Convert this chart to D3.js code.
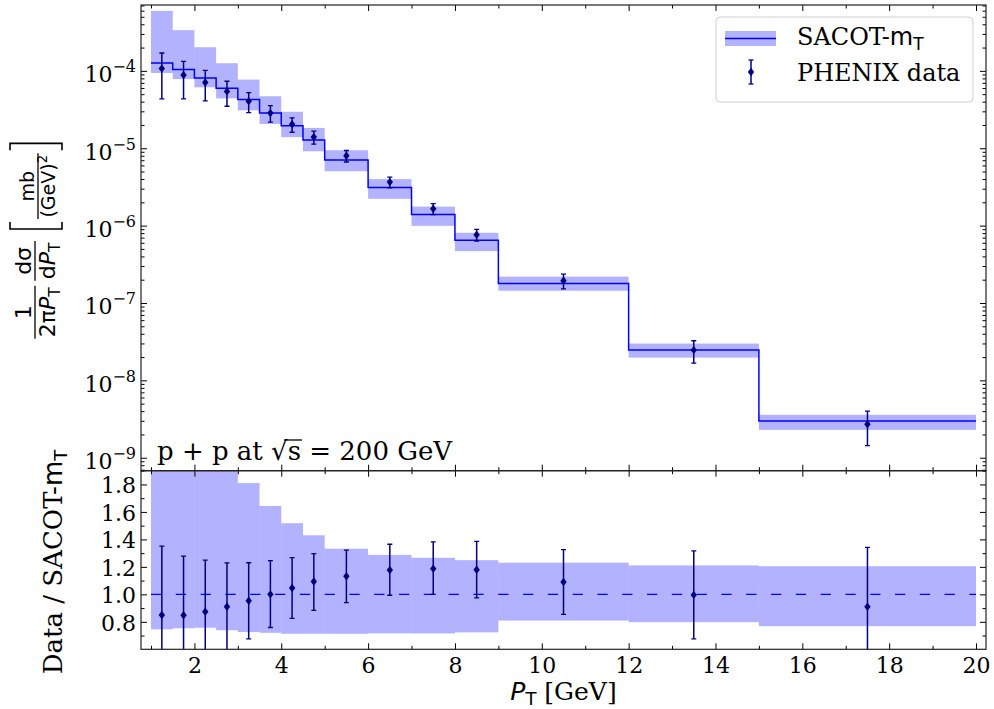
<!DOCTYPE html>
<html>
<head>
<meta charset="utf-8">
<script src="https://d3js.org/d3.v7.min.js"></script>
<style>
  body { margin: 0; background: #fff; }
</style>
</head>
<body>
<svg id="chart" width="994" height="709" font-family="DejaVu Serif"></svg>
<script>
// bins in P_T [GeV]
var binLo = [1, 1.5, 2, 2.5, 3, 3.5, 4, 4.5, 5, 6, 7, 8, 9, 12, 15];
var binHi = [1.5, 2, 2.5, 3, 3.5, 4, 4.5, 5, 6, 7, 8, 9, 12, 15, 20];

// SACOT-mT prediction (central value + band), mb/GeV^2
var theory   = [1.26e-4, 1.04e-4, 8.1e-5, 5.97e-5, 4.26e-5, 2.86e-5, 1.95e-5, 1.28e-5, 7.07e-6, 3.1e-6, 1.39e-6, 6.47e-7, 1.78e-7, 2.47e-8, 2.98e-9];
var theoryHi = [5.97e-4, 3.36e-4, 2.02e-4, 1.254e-4, 7.71e-5, 4.70e-5, 2.96e-5, 1.83e-5, 9.42e-6, 3.99e-6, 1.76e-6, 8.08e-7, 2.19e-7, 2.99e-8, 3.59e-9];
var theoryLo = [9.39e-5, 7.83e-5, 6.13e-5, 4.41e-5, 3.09e-5, 2.06e-5, 1.39e-5, 9.13e-6, 5.04e-6, 2.22e-6, 9.94e-7, 4.68e-7, 1.44e-7, 1.97e-8, 2.29e-9];

// PHENIX data
var dataPt  = [1.25, 1.75, 2.25, 2.75, 3.25, 3.75, 4.25, 4.75, 5.5, 6.5, 7.5, 8.5, 10.5, 13.5, 17.5];
var dataVal = [1.071e-4, 8.82e-5, 7.08e-5, 5.43e-5, 4.06e-5, 2.86e-5, 2.04e-5, 1.40e-5, 8.0e-6, 3.65e-6, 1.65e-6, 7.63e-7, 1.94e-7, 2.46e-8, 2.71e-9];
var dataHi  = [1.702e-4, 1.330e-4, 1.012e-4, 7.34e-5, 5.24e-5, 3.56e-5, 2.47e-5, 1.66e-5, 9.35e-6, 4.23e-6, 1.92e-6, 8.96e-7, 2.36e-7, 3.25e-8, 4.0e-9];
var dataLo  = [4.35e-5, 4.35e-5, 4.09e-5, 3.49e-5, 2.88e-5, 2.17e-5, 1.61e-5, 1.13e-5, 6.64e-6, 3.08e-6, 1.39e-6, 6.30e-7, 1.52e-7, 1.67e-8, 1.43e-9];

// ticks
var xTicks = [2, 4, 6, 8, 10, 12, 14, 16, 18, 20];
var xMinor = [1, 3, 5, 7, 9, 11, 13, 15, 17, 19];
var logTicks = [1e-9, 1e-8, 1e-7, 1e-6, 1e-5, 1e-4];
var ratioTicks = [0.8, 1.0, 1.2, 1.4, 1.6, 1.8];
var ratioMinor = [0.7, 0.9, 1.1, 1.3, 1.5, 1.7, 1.9];

var svg = d3.select('#chart');
var L = 141, R = 986, T = 5, M = 470.7, B = 649.3;
var BLUE = '#0000ff', NAVY = '#000080';

var x = d3.scaleLinear().domain([0.77, 20.23]).range([L, R]);
var yTop = d3.scaleLog().domain([6.8e-10, 7.1e-4]).range([M, T]);
var yBot = d3.scaleLinear().domain([0.6, 1.9]).range([B, M]);

var logMinor = [];
for (var k = -10; k <= -4; k++) {
    for (var m = 2; m <= 9; m++) {
        var v = m * Math.pow(10, k);
        if (v > 6.8e-10 && v < 7.1e-4) logMinor.push(v);
    }
}

var defs = svg.append('defs');
defs.append('clipPath').attr('id', 'clipTop').append('rect')
    .attr('x', L).attr('y', T).attr('width', R - L).attr('height', M - T);
defs.append('clipPath').attr('id', 'clipBot').append('rect')
    .attr('x', L).attr('y', M).attr('width', R - L).attr('height', B - M);

var bins = binLo.map(function(lo, i) {
    return {lo: lo, hi: binHi[i], c: theory[i], bl: theoryLo[i], bh: theoryHi[i]};
});
var pts = dataPt.map(function(p, i) {
    return {x: p, v: dataVal[i], lo: dataLo[i], hi: dataHi[i], c: theory[i]};
});

function diamond(cx, cy) {
    return 'M' + cx + ',' + (cy - 4.2) + 'L' + (cx + 3.2) + ',' + cy + 'L' + cx + ',' + (cy + 4.2) + 'L' + (cx - 3.2) + ',' + cy + 'Z';
}

function drawPoints(g, yScale, f) {
    var p = g.selectAll('.pt').data(pts).enter().append('g').attr('class', 'pt');
    p.append('line')
        .attr('x1', function(d) { return x(d.x); }).attr('x2', function(d) { return x(d.x); })
        .attr('y1', function(d) { return yScale(f(d.hi, d)); })
        .attr('y2', function(d) { return yScale(f(d.lo, d)); })
        .attr('stroke', NAVY).attr('stroke-width', 1.5);
    [function(d) { return d.hi; }, function(d) { return d.lo; }].forEach(function(acc) {
        p.append('line')
            .attr('x1', function(d) { return x(d.x) - 2.5; }).attr('x2', function(d) { return x(d.x) + 2.5; })
            .attr('y1', function(d) { return yScale(f(acc(d), d)); })
            .attr('y2', function(d) { return yScale(f(acc(d), d)); })
            .attr('stroke', NAVY).attr('stroke-width', 1.3);
    });
    p.append('path')
        .attr('d', function(d) { return diamond(x(d.x), yScale(f(d.v, d))); })
        .attr('fill', NAVY);
}

// ---- top panel
var topG = svg.append('g').attr('clip-path', 'url(#clipTop)');
topG.selectAll('.band').data(bins).enter().append('rect')
    .attr('class', 'band')
    .attr('x', function(d) { return x(d.lo); })
    .attr('width', function(d) { return x(d.hi) - x(d.lo); })
    .attr('y', function(d) { return yTop(d.bh); })
    .attr('height', function(d) { return yTop(d.bl) - yTop(d.bh); })
    .attr('fill', BLUE).attr('fill-opacity', 0.3);

var stepPts = bins.map(function(d) { return [d.lo, d.c]; });
stepPts.push([binHi[binHi.length - 1], theory[theory.length - 1]]);
topG.append('path')
    .attr('d', d3.line().curve(d3.curveStepAfter)
        .x(function(d) { return x(d[0]); })
        .y(function(d) { return yTop(d[1]); })(stepPts))
    .attr('fill', 'none').attr('stroke', BLUE).attr('stroke-width', 1.5);

drawPoints(topG, yTop, function(v) { return v; });

// ---- bottom panel (ratio to theory)
var botG = svg.append('g').attr('clip-path', 'url(#clipBot)');
botG.selectAll('.band').data(bins).enter().append('rect')
    .attr('class', 'band')
    .attr('x', function(d) { return x(d.lo); })
    .attr('width', function(d) { return x(d.hi) - x(d.lo); })
    .attr('y', function(d) { return yBot(d.bh / d.c); })
    .attr('height', function(d) { return yBot(d.bl / d.c) - yBot(d.bh / d.c); })
    .attr('fill', BLUE).attr('fill-opacity', 0.3);

botG.append('line')
    .attr('x1', x(1)).attr('x2', x(20)).attr('y1', yBot(1)).attr('y2', yBot(1))
    .attr('stroke', BLUE).attr('stroke-width', 1.3).attr('stroke-dasharray', '10.3,14.5');

drawPoints(botG, yBot, function(v, d) { return v / d.c; });

// ---- axes
function axis(fn, scale, values, size, tx, ty, fmt, pad) {
    var g = svg.append('g').attr('transform', 'translate(' + tx + ',' + ty + ')')
        .call(fn(scale).tickValues(values).tickSize(size).tickPadding(pad || 0)
            .tickFormat(fmt || function() { return ''; }));
    g.select('.domain').remove();
    g.attr('font-family', 'DejaVu Serif').attr('font-size', 22).attr('color', '#000');
    g.selectAll('.tick line').attr('stroke-width', 1);
    return g;
}

// x ticks (both panels, all inner edges)
[[d3.axisTop, T], [d3.axisBottom, M], [d3.axisTop, M]].forEach(function(a) {
    axis(a[0], x, xTicks, -6, 0, a[1]);
    axis(a[0], x, xMinor, -3.5, 0, a[1]);
});
axis(d3.axisBottom, x, xTicks, -6, 0, B, d3.format('d'), 8);
axis(d3.axisBottom, x, xMinor, -3.5, 0, B);

// log y ticks
var gl = axis(d3.axisLeft, yTop, logTicks, -6, L, 0, function(d) { return d; }, 5);
gl.selectAll('.tick text').each(function(d) {
    var t = d3.select(this);
    var e = Math.round(Math.log10(d));
    t.text(null).attr('dy', '0.5em');
    t.append('tspan').text('10');
    t.append('tspan').attr('dy', -10).attr('font-size', 16).text('\u2212' + Math.abs(e));
});
axis(d3.axisLeft, yTop, logMinor, -3.5, L, 0);
axis(d3.axisRight, yTop, logTicks, -6, R, 0);
axis(d3.axisRight, yTop, logMinor, -3.5, R, 0);

// ratio y ticks
var gr = axis(d3.axisLeft, yBot, ratioTicks, -6, L, 0, d3.format('.1f'), 5);
gr.selectAll('.tick text').attr('dy', '0.38em');
axis(d3.axisLeft, yBot, ratioMinor, -3.5, L, 0);
axis(d3.axisRight, yBot, ratioTicks, -6, R, 0);
axis(d3.axisRight, yBot, ratioMinor, -3.5, R, 0);

// frames
[[T, M], [M, B]].forEach(function(r) {
    svg.append('rect').attr('x', L).attr('y', r[0]).attr('width', R - L).attr('height', r[1] - r[0])
        .attr('fill', 'none').attr('stroke', '#222').attr('stroke-width', 1.2);
});

// ---- x label
var xl = svg.append('text').attr('x', (L + R) / 2).attr('y', 700).attr('text-anchor', 'middle').attr('font-size', 25);
xl.append('tspan').attr('font-family', 'DejaVu Sans').attr('font-style', 'italic').text('P');
xl.append('tspan').attr('font-family', 'DejaVu Sans').attr('font-size', 18).attr('dy', 5).text('T');
xl.append('tspan').attr('dy', -5).text('\u00a0[GeV]');

// ---- ratio y label
var rl = svg.append('text').attr('transform', 'translate(62,562) rotate(-90)')
    .attr('text-anchor', 'middle').attr('font-size', 26);
rl.append('tspan').text('Data / SACOT-');
rl.append('tspan').attr('font-family', 'DejaVu Sans').text('m');
rl.append('tspan').attr('font-family', 'DejaVu Sans').attr('font-size', 18).attr('dy', 5).text('T');

// ---- top y label (fraction layout)
function mathText(parent, parts, size) {
    var t = parent.append('text').attr('font-family', 'DejaVu Sans').attr('font-size', size).attr('text-anchor', 'middle');
    parts.forEach(function(p) {
        var s = t.append('tspan').text(p.t);
        if (p.it) s.attr('font-style', 'italic');
        if (p.sub) s.attr('font-size', size * 0.7).attr('dy', size * 0.22);
        if (p.sup) s.attr('font-size', size * 0.7).attr('dy', -size * 0.4);
    });
    return t;
}
function frac(parent, num, den, size, gapN, gapD) {
    var g = parent.append('g');
    var n = mathText(g, num, size).attr('y', -gapN);
    var d = mathText(g, den, size).attr('y', gapD + size * 0.73);
    var w = Math.max(n.node().getComputedTextLength(), d.node().getComputedTextLength()) + 3;
    g.append('line').attr('x1', -w / 2).attr('x2', w / 2).attr('stroke', '#000').attr('stroke-width', 1.3);
    return {g: g, w: w};
}
var yl = svg.append('g').attr('transform', 'translate(35,241) rotate(-90)');
var f1 = frac(yl, [{t: '1'}], [{t: '2\u03c0'}, {t: 'P', it: true}, {t: 'T', sub: true}], 22, 4, 4);
var f2 = frac(yl, [{t: 'd\u03c3'}], [{t: 'd'}, {t: 'P', it: true}, {t: 'T', sub: true}], 22, 4, 4);
var f3 = frac(yl, [{t: 'mb'}], [{t: '(GeV)'}, {t: '2', sup: true}], 19, 4, 3);
var bw = 7, bh = 25;
var total = f1.w + 5 + f2.w + 12 + bw + 3 + f3.w + 3 + bw;
var cur = -total / 2;
f1.g.attr('transform', 'translate(' + (cur + f1.w / 2) + ',0)'); cur += f1.w + 5;
f2.g.attr('transform', 'translate(' + (cur + f2.w / 2) + ',0)'); cur += f2.w + 12;
yl.append('path').attr('d', 'M' + (cur + bw) + ',' + (-bh) + 'H' + cur + 'V' + (bh + 2) + 'H' + (cur + bw))
    .attr('fill', 'none').attr('stroke', '#000').attr('stroke-width', 1.6);
cur += bw + 3;
f3.g.attr('transform', 'translate(' + (cur + f3.w / 2) + ',3)'); cur += f3.w + 3;
yl.append('path').attr('d', 'M' + cur + ',' + (-bh) + 'H' + (cur + bw) + 'V' + (bh + 2) + 'H' + cur)
    .attr('fill', 'none').attr('stroke', '#000').attr('stroke-width', 1.6);

// ---- annotation
var annLabel = 'p + p at \u221as = 200 GeV';
var ann = svg.append('text').attr('x', 157).attr('y', 460).attr('font-size', 26)
    .attr('xml:space', 'preserve').text(annLabel);
var an = ann.node();
var si = annLabel.indexOf('\u221a');
var sx0 = an.getStartPositionOfChar(si).x + 13, sx1 = an.getEndPositionOfChar(si + 1).x + 1;
svg.append('line').attr('x1', sx0).attr('x2', sx1).attr('y1', 440).attr('y2', 440)
    .attr('stroke', '#000').attr('stroke-width', 1.3);

// ---- legend
var lg = svg.append('g');
lg.append('rect').attr('x', 716).attr('y', 17).attr('width', 257).attr('height', 85).attr('rx', 4)
    .attr('fill', '#fff').attr('fill-opacity', 0.8).attr('stroke', '#d0d0d0').attr('stroke-width', 1);
lg.append('rect').attr('x', 725).attr('y', 31).attr('width', 51).attr('height', 15)
    .attr('fill', BLUE).attr('fill-opacity', 0.3);
lg.append('line').attr('x1', 725).attr('x2', 776).attr('y1', 38.5).attr('y2', 38.5)
    .attr('stroke', BLUE).attr('stroke-width', 1.5);
var lt1 = lg.append('text').attr('x', 797).attr('y', 45).attr('font-size', 24);
lt1.append('tspan').text('SACOT-');
lt1.append('tspan').attr('font-family', 'DejaVu Sans').text('m');
lt1.append('tspan').attr('font-family', 'DejaVu Sans').attr('font-size', 17).attr('dy', 5).text('T');
lg.append('line').attr('x1', 751).attr('x2', 751).attr('y1', 60).attr('y2', 84).attr('stroke', NAVY).attr('stroke-width', 1.5);
lg.append('line').attr('x1', 748.5).attr('x2', 753.5).attr('y1', 60).attr('y2', 60).attr('stroke', NAVY).attr('stroke-width', 1.3);
lg.append('line').attr('x1', 748.5).attr('x2', 753.5).attr('y1', 84).attr('y2', 84).attr('stroke', NAVY).attr('stroke-width', 1.3);
lg.append('path').attr('d', diamond(751, 72)).attr('fill', NAVY);
lg.append('text').attr('x', 797).attr('y', 81).attr('font-size', 24).text('PHENIX data');
</script>
</body>
</html>
